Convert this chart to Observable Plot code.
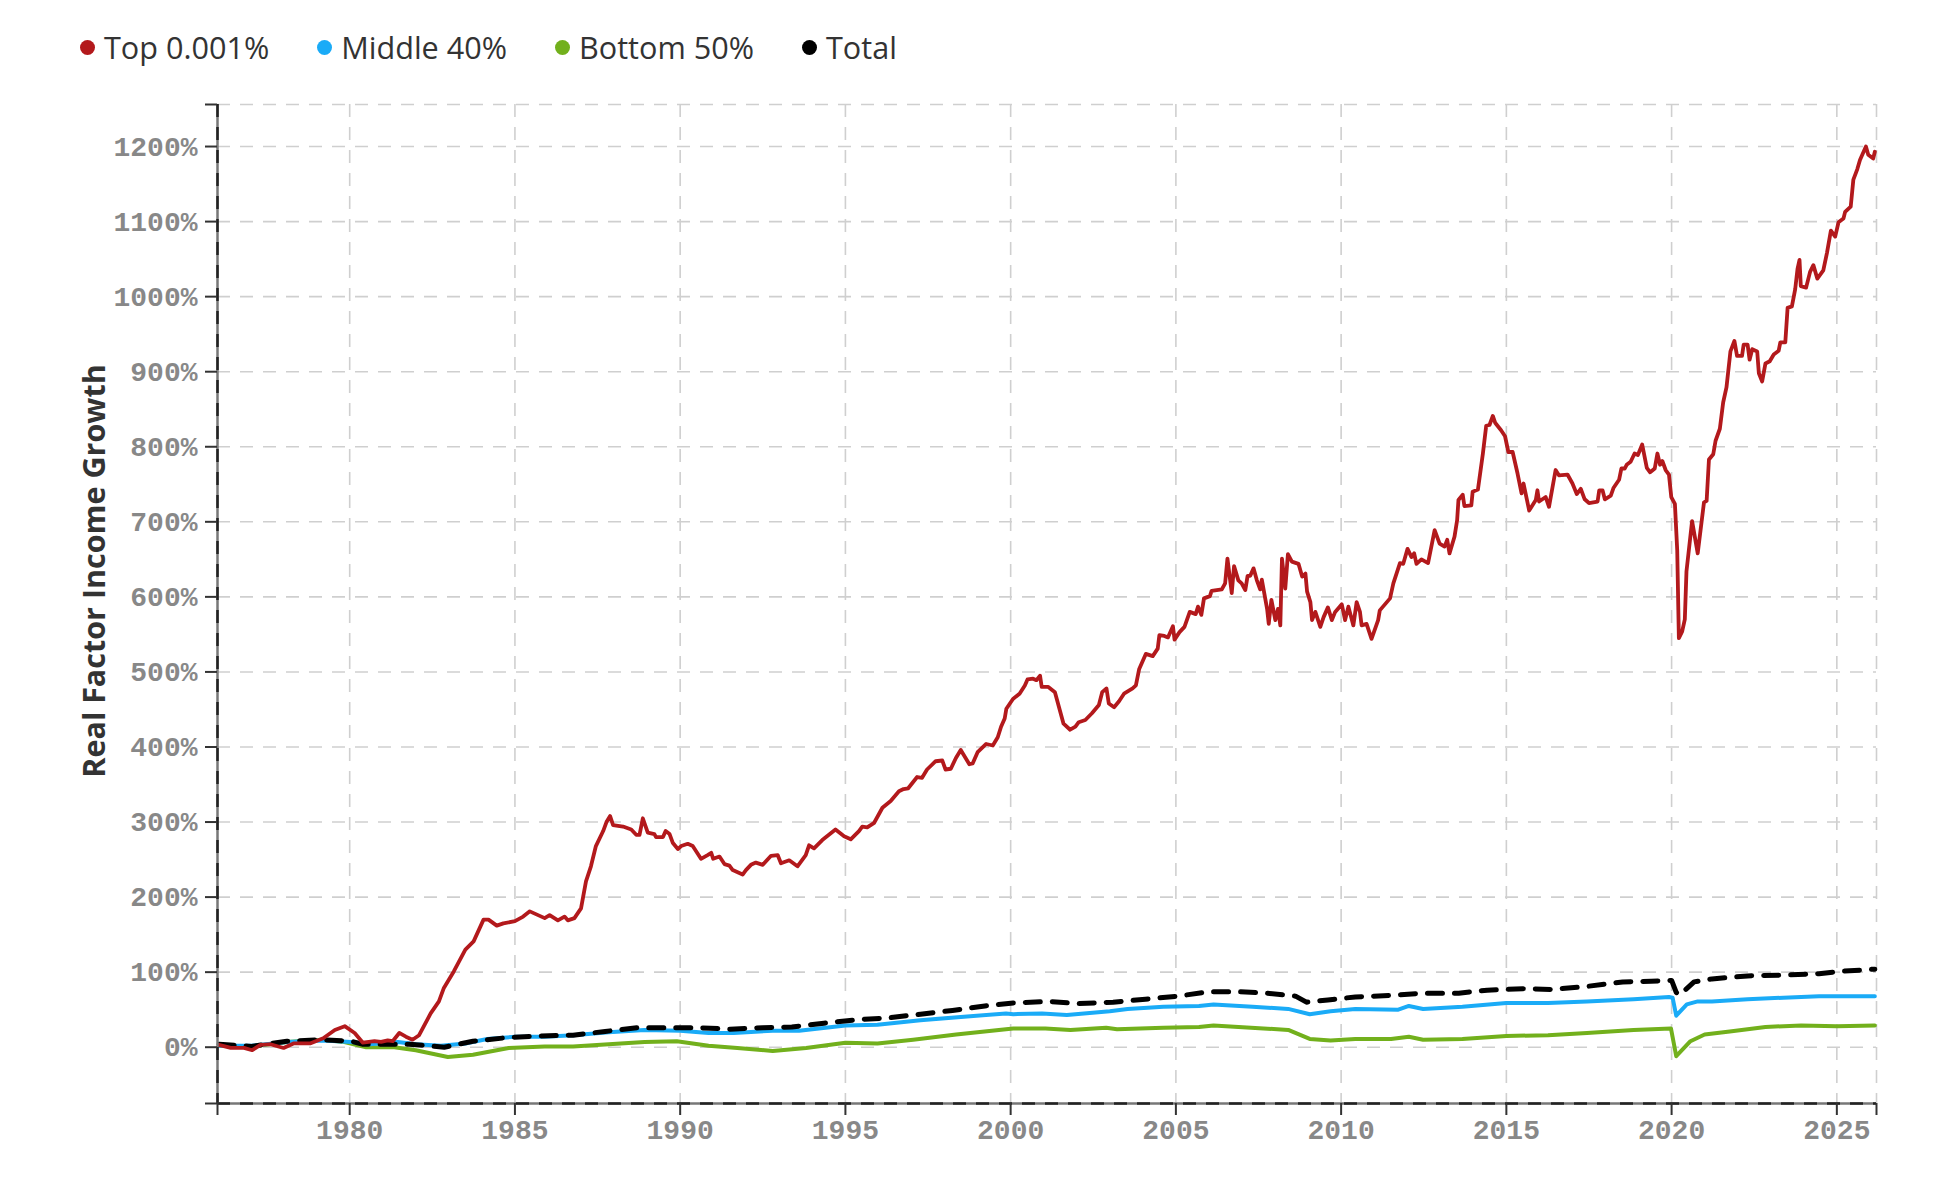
<!DOCTYPE html>
<html>
<head>
<meta charset="utf-8">
<script src="https://cdn.jsdelivr.net/npm/d3@7"></script>
<script src="https://cdn.jsdelivr.net/npm/@observablehq/plot@0.6"></script>
<style>
  html, body { margin: 0; padding: 0; background: #fff; overflow: hidden; }
  body { width: 1936px; height: 1178px; font-family: "Open Sans", Lato, sans-serif; }
  #legend { height: 80px; display: flex; align-items: center; padding-left: 80px; box-sizing: border-box; padding-top: 14px; }
  .item { display: flex; align-items: center; margin-right: 48px; font-size: 30.6px; color: #333; }
  .dot { width: 15px; height: 15px; border-radius: 50%; margin-right: 9px; }
  #chart svg { display: block; }
</style>
</head>
<body>
<div id="legend"></div>
<div id="chart"></div>
<script>
const seriesNames = ["Top 0.001%", "Middle 40%", "Bottom 50%", "Total"];
const seriesColors = ["#b3191c", "#1aabf7", "#72b01c", "#000000"];

const xTicks = [1980, 1985, 1990, 1995, 2000, 2005, 2010, 2015, 2020, 2025];
const yTicks = [0, 100, 200, 300, 400, 500, 600, 700, 800, 900, 1000, 1100, 1200];
const xDomain = [1976, 2026.2];
const yDomain = [-75, 1256];

const topYears = [1976.04,1976.4,1976.8,1977.05,1977.3,1977.6,1978.0,1978.3,1978.8,1979.2,1979.55,1979.85,1980.15,1980.4,1980.75,1980.95,1981.15,1981.3,1981.5,1981.7,1981.9,1982.1,1982.45,1982.7,1982.85,1983.15,1983.5,1983.75,1984.05,1984.2,1984.45,1984.65,1985.0,1985.25,1985.45,1985.7,1985.9,1986.05,1986.3,1986.5,1986.6,1986.8,
1987.0,1987.15,1987.3,1987.45,1987.67,1987.77,1987.88,1987.97,1988.27,1988.52,1988.67,1988.77,1988.87,1989.02,1989.22,1989.27,1989.48,1989.56,1989.68,1989.78,1989.93,1990.03,1990.23,1990.38,1990.63,1990.83,1990.94,1991.0,1991.19,1991.34,1991.49,1991.59,1991.89,1991.99,1992.14,1992.29,1992.5,1992.75,1992.95,1993.05,1993.3,1993.55,1993.8,1993.9,1994.05,1994.3,1994.5,1994.7,1994.96,1995.16,1995.41,1995.51,1995.66,1995.87,1996.12,1996.37,1996.62,
1996.76,1996.9,1997.17,1997.32,1997.47,1997.73,1997.93,1998.03,1998.19,1998.34,1998.49,1998.75,1998.85,1999.0,1999.26,1999.46,1999.61,1999.71,1999.82,1999.87,2000.07,2000.27,2000.43,2000.51,2000.68,2000.78,2000.89,2000.94,2001.14,2001.34,2001.6,2001.8,2001.96,2002.06,2002.26,2002.46,2002.67,2002.77,2002.9,2002.97,2003.13,2003.28,2003.43,2003.69,2003.79,2003.89,2004.09,2004.3,2004.45,2004.5,2004.65,2004.76,2004.91,2004.96,2005.11,2005.26,2005.42,2005.6,2005.67,2005.77,2005.85,2006.03,2006.08,2006.39,2006.49,2006.56,2006.69,2006.76,
2006.89,2006.99,2007.1,2007.17,2007.25,2007.35,2007.45,2007.55,2007.6,2007.76,2007.81,2007.89,2008.01,2008.09,2008.16,2008.21,2008.31,2008.39,2008.51,2008.71,2008.82,2008.92,2008.97,2009.07,2009.12,2009.22,2009.37,2009.47,2009.6,2009.72,2009.82,2010.02,2010.12,2010.22,2010.37,2010.47,2010.57,2010.62,2010.77,2010.92,2011.12,2011.17,2011.48,2011.58,2011.78,2011.88,2012.01,2012.13,2012.21,2012.28,2012.43,2012.63,2012.83,2012.98,2013.13,2013.21,2013.28,2013.43,2013.51,2013.55,2013.68,2013.73,2013.94,2013.98,2014.14,2014.29,2014.39,2014.49,2014.59,2014.66,2014.84,2014.96,2015.06,2015.19,2015.34,2015.46,2015.52,2015.69,2015.89,2015.94,2015.99,2016.19,2016.29,2016.49,2016.59,
2016.85,2017.0,2017.13,2017.25,2017.37,2017.5,2017.76,2017.81,2017.91,2017.98,2018.16,2018.24,2018.41,2018.48,2018.58,2018.64,2018.76,2018.88,2018.98,2019.11,2019.25,2019.35,2019.49,2019.57,2019.65,2019.72,2019.82,2019.92,2019.99,2020.1,2020.17,2020.22,2020.32,2020.4,2020.45,2020.62,2020.79,2020.98,2021.06,2021.13,2021.26,2021.33,2021.46,2021.56,2021.66,2021.78,2021.9,2021.98,2022.13,2022.18,2022.3,2022.36,2022.44,2022.59,2022.64,2022.74,2022.84,2022.97,2023.09,2023.24,2023.29,2023.44,2023.51,2023.64,2023.74,2023.81,2023.87,2023.91,2024.07,2024.19,2024.29,2024.41,2024.59,2024.7,2024.82,2024.95,2025.05,2025.2,2025.25,2025.42,2025.5,2025.62,2025.7,2025.88,2025.95,2026.1,2026.15];
const topValues = [3,-1,-1,-4,3,4,-1,5,5,12,23,28,19,6,8,7,9,8,19,14,10,16,45,61,79,101,130,141,170,170,162,165,168,174,181,176,172,176,169,174,169,172,
185,221,241,268,288,300,308,296,294,290,283,283,305,286,284,280,280,288,284,272,264,268,271,268,251,256,259,251,254,244,242,236,230,236,243,246,243,255,256,245,249,241,256,269,265,276,283,290,281,277,288,294,293,299,319,328,341,
344,345,360,359,370,381,382,370,371,385,396,377,378,393,404,402,413,427,438,451,464,471,482,490,491,489,495,480,480,473,431,423,427,433,436,445,456,473,478,458,453,461,471,478,482,504,524,521,531,549,548,546,561,543,553,560,580,577,587,576,598,601,608,610,618,651,605,641,
622,618,609,628,628,638,622,610,623,584,564,596,569,584,562,651,611,657,647,644,627,631,607,593,569,580,560,573,586,569,580,590,569,587,562,593,580,562,564,544,569,582,598,618,645,644,664,653,658,644,650,645,689,671,667,676,658,680,702,729,736,721,722,740,743,791,828,829,841,832,822,814,793,793,764,738,751,715,729,742,727,733,720,769,762,
763,751,737,744,730,725,727,742,742,730,735,745,756,771,771,776,780,791,789,803,772,766,771,791,776,781,769,763,733,724,662,545,554,570,634,701,658,726,728,783,790,808,824,859,879,927,941,921,921,936,936,916,930,927,898,887,911,914,923,928,939,939,985,987,1010,1037,1049,1014,1012,1033,1042,1024,1035,1058,1088,1080,1099,1104,1113,1120,1156,1170,1182,1200,1189,1184,1193];

const middleYears = [1976.05,1977.03,1978.1,1979.19,1980.05,1980.6,1981.46,1982.0,1982.76,1983.5,1984.16,1985.03,1985.9,1986.76,1987.84,1988.92,1990.0,1990.86,1991.62,1992.8,1993.6,1995.0,1995.97,1997.27,1998.68,1999.86,2000.08,2000.95,2001.7,2003.0,2003.54,2004.62,2005.7,2006.14,2007.32,2008.4,2009.05,2009.68,2010.43,2011.73,2012.05,2012.48,2013.67,2015.0,2016.26,2017.44,2018.85,2019.92,2020.03,2020.14,2020.46,2020.79,2021.22,2022.3,2023.38,2024.46,2026.15];
const middleValues = [2,2,7,9,7,4,7,4,2,5,11,14,14,16,20,23,22,19,19,22,22,29,30,36,41,45,44,45,43,48,51,54,55,57,54,51,44,48,51,50,55,51,54,59,59,61,64,67,66,42,57,61,61,64,66,68,68];

const bottomYears = [1976.05,1977.03,1978.1,1979.19,1979.84,1980.5,1981.35,1982.0,1982.97,1983.73,1984.81,1985.9,1986.76,1987.84,1988.92,1989.9,1990.86,1991.73,1992.8,1993.81,1995.0,1995.97,1997.05,1998.35,1999.86,2000.08,2001.05,2001.81,2002.89,2003.22,2004.62,2005.7,2006.14,2007.65,2008.4,2009.05,2009.68,2010.43,2011.51,2012.05,2012.48,2013.67,2015.0,2016.26,2017.44,2018.85,2019.98,2020.14,2020.57,2021.0,2021.76,2022.84,2023.92,2025.0,2026.15];
const bottomValues = [2,1,7,10,7,0,0,-4,-13,-10,-1,1,1,4,7,8,2,-1,-5,-1,6,5,10,17,24,25,25,23,26,24,26,27,29,25,23,11,9,11,11,14,10,11,15,16,19,23,25,-12,8,17,21,27,29,28,29];

const totalYears = [1976.05,1977.03,1978.1,1979.19,1980.05,1980.38,1981.8,1982.86,1983.73,1984.81,1985.78,1986.76,1987.73,1988.7,1989.57,1990.54,1991.51,1992.49,1993.38,1994.35,1995.43,1996.3,1997.27,1998.24,1999.22,2000.08,2001.16,2002.03,2003.1,2004.08,2005.05,2006.03,2006.9,2007.76,2008.62,2008.95,2009.6,2010.43,2011.51,2012.48,2013.56,2014.42,2015.5,2016.36,2017.44,2018.52,2019.38,2020.0,2020.14,2020.25,2020.68,2021.22,2022.3,2023.38,2024.46,2025.1,2026.15];
const totalValues = [4,1,8,10,8,4,4,0,8,13,15,16,21,26,26,26,24,26,27,32,37,39,44,49,55,59,61,58,60,64,68,74,74,72,68,60,63,67,69,72,72,76,78,77,81,87,88,89,73,70,87,91,95,96,98,101,104];

const yLabel = "Real Factor Income Growth";

// legend
const legend = d3.select("#legend");
seriesNames.forEach((name, i) => {
  const it = legend.append("div").attr("class", "item");
  it.append("div").attr("class", "dot").style("background", seriesColors[i]);
  it.append("span").text(name);
});

const toRows = (years, values) => years.map((x, i) => ({x, y: values[i]}));
const topRows = toRows(topYears, topValues);
const midRows = toRows(middleYears, middleValues);
const botRows = toRows(bottomYears, bottomValues);
const totRows = toRows(totalYears, totalValues);

const tickFont = {fontFamily: "Liberation Mono, DejaVu Sans Mono, monospace", fontSize: 28, fontWeight: "bold"};
const gridStyle = {stroke: "#cfcfcf", strokeOpacity: 1, strokeWidth: 1.6, strokeDasharray: "13,10"};

const chart = Plot.plot({
  width: 1936,
  height: 1098,
  marginTop: 24,
  marginBottom: 75,
  marginLeft: 217,
  marginRight: 60,
  style: {background: "#fff", overflow: "visible"},
  x: {domain: xDomain, label: null},
  y: {domain: yDomain, label: null},
  marks: [
    Plot.gridX(xTicks, gridStyle),
    Plot.gridY(yTicks, gridStyle),
    Plot.ruleY([yDomain[1]], {...gridStyle}),
    Plot.ruleX([xDomain[1]], {...gridStyle}),
    Plot.line(botRows, {x: "x", y: "y", stroke: seriesColors[2], strokeWidth: 4, curve: "linear"}),
    Plot.line(midRows, {x: "x", y: "y", stroke: seriesColors[1], strokeWidth: 4, curve: "linear"}),
    Plot.line(totRows, {x: "x", y: "y", stroke: seriesColors[3], strokeWidth: 5, strokeDasharray: "15,12", curve: "linear"}),
    Plot.line(topRows, {x: "x", y: "y", stroke: seriesColors[0], strokeWidth: 3.8, curve: "linear"}),
    // axis lines
    Plot.ruleX([xDomain[0]], {stroke: "#777", strokeWidth: 2.5}),
    Plot.ruleX([xDomain[0]], {stroke: "#222", strokeWidth: 2.5, strokeDasharray: "13,10"}),
    Plot.ruleY([yDomain[0]], {stroke: "#777", strokeWidth: 2.5}),
    Plot.ruleY([yDomain[0]], {stroke: "#222", strokeWidth: 2.5, strokeDasharray: "13,10"}),
    Plot.axisY(yTicks, {tickSize: 12, tickPadding: 8, stroke: "#333", strokeWidth: 2, fill: "#888", tickFormat: d => d + "%", ...tickFont}),
    Plot.axisY(yDomain, {tickSize: 12, stroke: "#333", strokeWidth: 2, tickFormat: () => ""}),
    Plot.axisX(xTicks, {tickSize: 12, tickPadding: 4, stroke: "#333", strokeWidth: 2, fill: "#888", tickFormat: d => String(d), ...tickFont}),
    Plot.axisX(xDomain, {tickSize: 12, stroke: "#333", strokeWidth: 2, tickFormat: () => ""})
  ]
});
document.getElementById("chart").appendChild(chart);

d3.select(chart).append("text")
  .attr("transform", "translate(93,491) rotate(-90)")
  .attr("text-anchor", "middle")
  .attr("dominant-baseline", "central")
  .attr("font-family", "'Open Sans', Lato, sans-serif")
  .attr("font-weight", "bold")
  .attr("font-size", 30.5)
  .attr("fill", "#333")
  .text(yLabel);
</script>
</body>
</html>
